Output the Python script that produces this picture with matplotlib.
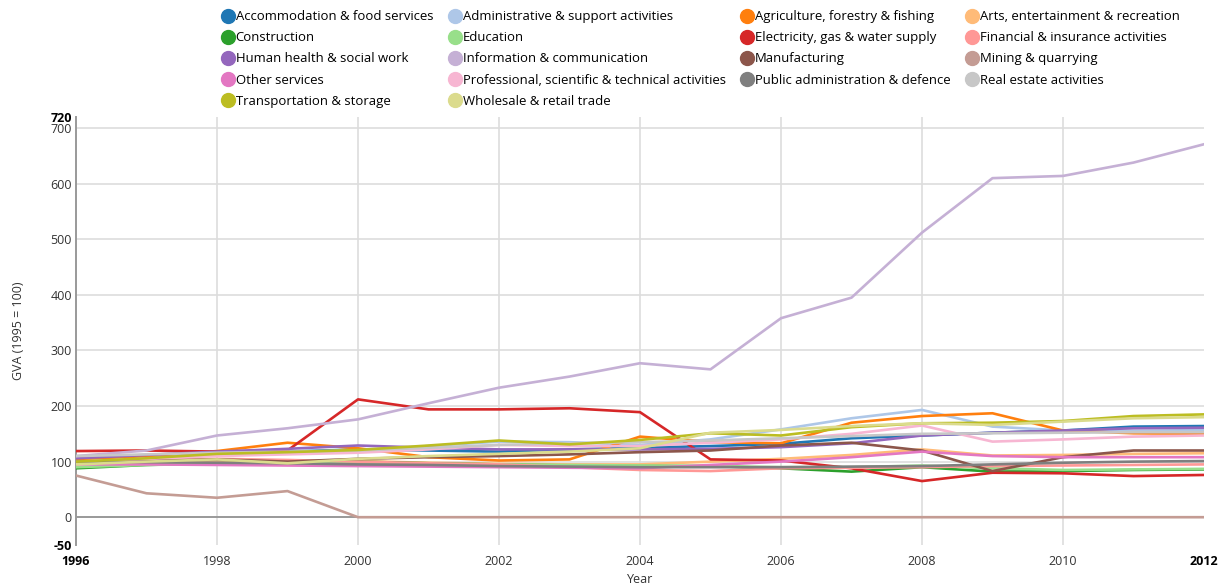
import matplotlib
matplotlib.use("Agg")
import matplotlib.pyplot as plt
from matplotlib.lines import Line2D

plt.rcParams['font.family'] = ['Open Sans', 'DejaVu Sans']

years = list(range(1996, 2013))

series_names = [
    "Accommodation & food services", "Administrative & support activities",
    "Agriculture, forestry & fishing", "Arts, entertainment & recreation",
    "Construction", "Education",
    "Electricity, gas & water supply", "Financial & insurance activities",
    "Human health & social work", "Information & communication",
    "Manufacturing", "Mining & quarrying",
    "Other services", "Professional, scientific & technical activities",
    "Public administration & defence", "Real estate activities",
    "Transportation & storage", "Wholesale & retail trade",
]

colors = ["#1f77b4", "#aec7e8", "#ff7f0e", "#ffbb78", "#2ca02c", "#98df8a",
          "#d62728", "#ff9896", "#9467bd", "#c5b0d5", "#8c564b", "#c49c94",
          "#e377c2", "#f7b6d2", "#7f7f7f", "#c7c7c7", "#bcbd22", "#dbdb8d"]

accommodation = [108, 111, 115, 118, 122, 120, 118, 122, 125, 128, 132, 142, 147, 152, 156, 163, 164]
administrative = [105, 110, 113, 117, 120, 128, 136, 135, 130, 140, 158, 178, 193, 163, 156, 155, 157]
agriculture = [104, 110, 119, 134, 124, 108, 102, 104, 145, 135, 133, 170, 182, 187, 156, 151, 150]
arts = [96, 98, 99, 100, 101, 98, 96, 95, 95, 100, 105, 112, 122, 111, 112, 114, 115]
construction = [88, 94, 97, 99, 100, 97, 95, 93, 92, 92, 88, 82, 90, 82, 83, 85, 86]
education = [90, 94, 96, 97, 98, 96, 95, 94, 93, 92, 90, 90, 93, 88, 85, 86, 87]
electricity = [119, 120, 118, 120, 212, 194, 194, 196, 189, 104, 102, 88, 65, 80, 79, 74, 76]
financial = [100, 103, 105, 103, 100, 97, 95, 90, 85, 83, 88, 89, 90, 92, 93, 94, 95]
human_health = [106, 112, 118, 123, 129, 125, 122, 122, 122, 123, 126, 133, 147, 152, 156, 160, 161]
information = [110, 120, 147, 160, 176, 205, 233, 253, 277, 266, 358, 395, 512, 610, 614, 638, 671]
manufacturing = [100, 102, 104, 100, 105, 108, 110, 113, 117, 120, 129, 134, 120, 83, 108, 120, 120]
mining = [75, 43, 35, 47, 0, 0, 0, 0, 0, 0, 0, 0, 0, 0, 0, 0, 0]
other_services = [95, 95, 94, 93, 92, 91, 90, 89, 88, 94, 100, 108, 118, 110, 108, 108, 108]
professional = [100, 105, 110, 113, 116, 122, 130, 128, 128, 134, 140, 150, 165, 136, 140, 145, 147]
public_admin = [100, 99, 98, 97, 95, 94, 92, 91, 90, 90, 90, 91, 92, 95, 98, 100, 101]
real_estate = [110, 113, 116, 118, 120, 125, 130, 133, 135, 138, 142, 146, 150, 151, 152, 153, 153]
transportation = [100, 106, 114, 117, 121, 129, 138, 131, 139, 151, 147, 162, 169, 170, 173, 182, 185]
wholesale = [95, 100, 104, 97, 105, 110, 114, 118, 124, 152, 157, 164, 169, 166, 172, 178, 180]

values = [accommodation, administrative, agriculture, arts, construction, education,
          electricity, financial, human_health, information, manufacturing, mining,
          other_services, professional, public_admin, real_estate, transportation, wholesale]

W, H = 1229, 588
fig = plt.figure(figsize=(W / 100, H / 100), dpi=100)
ax = fig.add_axes([76 / W, 1 - 545 / H, (1204 - 76) / W, (545 - 117) / H])

for name, col, vals in zip(series_names, colors, values):
    ax.plot(years, vals, color=col, lw=1.9, solid_joinstyle='round', zorder=3)

ax.set_xlim(1996, 2012)
ax.set_ylim(-50, 720)

ax.set_yticks([-50, 0, 100, 200, 300, 400, 500, 600, 700, 720])
ax.set_yticklabels(["-50", "0", "100", "200", "300", "400", "500", "600", "700", "720"])
ax.set_xticks(list(range(1996, 2013, 2)))
ax.set_xticklabels([str(y) for y in range(1996, 2013, 2)])

for lab in ax.get_yticklabels() + ax.get_xticklabels():
    lab.set_color("#333333")
    lab.set_fontsize(9)
for lab in (ax.get_yticklabels()[0], ax.get_yticklabels()[-1],
            ax.get_xticklabels()[0], ax.get_xticklabels()[-1]):
    lab.set_fontweight('bold')
    lab.set_color("#000000")

ax.tick_params(axis='y', length=0, pad=3)
ax.tick_params(axis='x', length=0, pad=7)

for v in range(100, 701, 100):
    ax.axhline(v, color="#dddddd", lw=1.2, zorder=1)
for x in range(1998, 2012, 2):
    ax.axvline(x, color="#dddddd", lw=1.2, zorder=1)
ax.axhline(0, color="#999999", lw=1.4, zorder=2)

for s in ("top", "right", "bottom"):
    ax.spines[s].set_visible(False)
ax.spines["left"].set_color("#999999")
ax.spines["left"].set_linewidth(1.4)

ax.set_ylabel("GVA (1995 = 100)", fontsize=9, color="#333333", labelpad=18)
ax.set_xlabel("Year", fontsize=9, color="#333333", labelpad=4)

handles = [Line2D([], [], marker='o', linestyle='None', markersize=10,
                  markerfacecolor=c, markeredgecolor=c) for c in colors]
order = list(range(0, 18, 4)) + list(range(1, 18, 4)) + list(range(2, 18, 4)) + list(range(3, 18, 4))
fig.legend([handles[i] for i in order], [series_names[i] for i in order],
           ncol=4, loc='upper left', bbox_to_anchor=(212 / W, 1 - 1 / H),
           frameon=False, fontsize=9.45, handletextpad=0.1, columnspacing=1.15,
           labelspacing=0.62, handlelength=1.0, borderpad=0.2)

fig.savefig("out.png", dpi=100)
